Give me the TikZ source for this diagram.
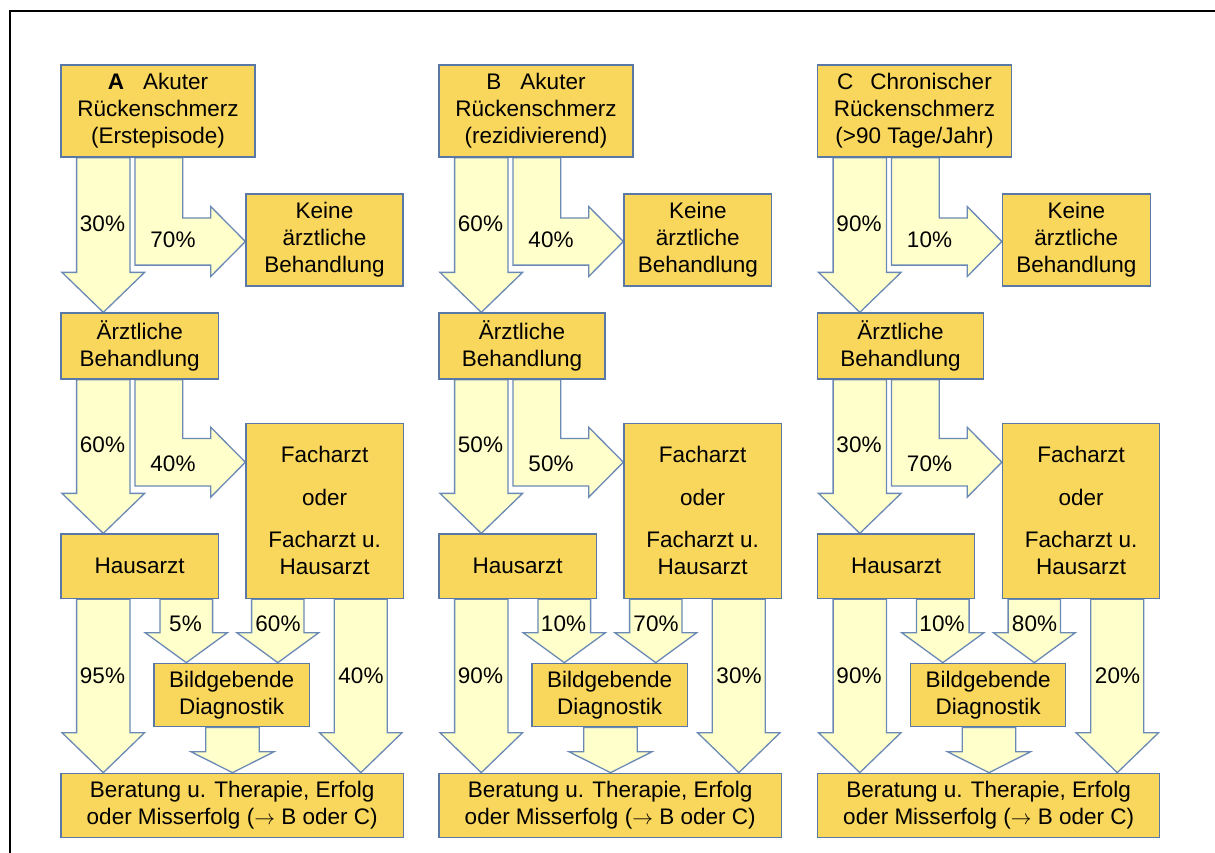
\documentclass[tikz,border=0pt]{standalone}
\usepackage{fontspec}
\setmainfont{Liberation Sans}
\usetikzlibrary{calc}
\definecolor{boxfill}{HTML}{F9D65C}
\definecolor{boxline}{HTML}{5A78A6}
\definecolor{arrfill}{HTML}{FFFFCC}
\definecolor{arrline}{HTML}{6A89B5}
\pgfdeclarelayer{bg}
\pgfsetlayers{bg,main}
% straight block arrow: from node, to node, centre x, shaft half width, head half width, head length
\newcommand\dnarrow[6]{%
  \draw[barrow] let \p1=(#1.south), \p2=(#2.north) in
   ({(#3-#4)*1pt},\y1) -- ({(#3+#4)*1pt},\y1) -- ({(#3+#4)*1pt},{\y2+#6pt})
   -- ({(#3+#5)*1pt},{\y2+#6pt}) -- ({(#3)*1pt},\y2) -- ({(#3-#5)*1pt},{\y2+#6pt})
   -- ({(#3-#4)*1pt},{\y2+#6pt}) -- cycle;}
% bent block arrow: from node, to node, left x, vertical width, centre y, half width, head start x
\newcommand\bentarrow[7]{%
  \draw[barrow] let \p1=(#1.south), \p2=(#2.west) in
   ({(#3)*1pt},\y1) -- ({(#3+#4)*1pt},\y1) -- ({(#3+#4)*1pt},{(#5+#6)*1pt})
   -- ({(#7)*1pt},{(#5+#6)*1pt}) -- ({(#7)*1pt},{(#5+35)*1pt}) -- (\x2,{(#5)*1pt})
   -- ({(#7)*1pt},{(#5-35)*1pt}) -- ({(#7)*1pt},{(#5-#6)*1pt}) -- ({(#3)*1pt},{(#5-#6)*1pt}) -- cycle;}
\def\ttlA{\textbf{A}\hspace{19pt}Akuter\\Rückenschmerz\\(Erstepisode)}
\def\ttlB{B\hspace{19pt}Akuter\\Rückenschmerz\\(rezidivierend)}
\def\ttlC{C\hspace{17pt}Chronischer\\Rückenschmerz\\(>90 Tage/Jahr)}
\begin{document}
\begin{tikzpicture}[x=1pt,y=1pt,
  box/.style={draw=boxline, fill=boxfill, line width=1.3pt, inner sep=0pt, align=center,
              font=\fontsize{22.5}{27}\selectfont, text=black},
  lbl/.style={inner sep=0pt, font=\fontsize{22.5}{27}\selectfont, text=black},
  barrow/.style={draw=arrline, fill=arrfill, line width=1.3pt, line join=miter}]
\useasboundingbox (0,0) rectangle (1215,-852);
\draw[line width=2pt] (9.7,-900) -- (9.7,-11) -- (1300,-11);
\foreach \c/\dx/\kw/\aw/\pa/\pb/\pc/\pd/\pe/\pf/\pg/\ph in
  {A/0/157/157.3/30/70/60/40/95/5/60/40,
   B/378/147.7/166/60/40/50/50/90/10/70/30,
   C/756.5/147.7/166/90/10/30/70/90/10/80/20}{
  % boxes
  \node[box, minimum width=194, minimum height=92] (\c-top) at ({\dx+158},-111) {\csname ttl\c\endcsname};
  \node[box, minimum width=\kw, minimum height=92] (\c-keine) at ({\dx+246+\kw/2},-240) {Keine\\ärztliche\\Behandlung};
  \node[box, minimum width=\aw, minimum height=66] (\c-arzt) at ({\dx+61+\aw/2},-346) {Ärztliche\\Behandlung};
  \node[box, minimum width=157.3, minimum height=64.5] (\c-haus) at ({\dx+139.65},-566.25) {Hausarzt};
  \node[box, minimum width=157.3, minimum height=175.2] (\c-fach) at ({\dx+324.65},-510.9) {Facharzt\\[16pt]oder\\[15pt]Facharzt u.\\Hausarzt};
  \node[box, minimum width=155.3, minimum height=63.4] (\c-bild) at ({\dx+231.65},-695) {Bildgebende\\Diagnostik};
  \node[box, minimum width=342.3, minimum height=64.4] (\c-ber) at ({\dx+232.15},-805.5) {Beratung u. Therapie, Erfolg\\oder Misserfolg ($\rightarrow$ B oder C)};
  % arrows
  \begin{pgfonlayer}{bg}
    \dnarrow{\c-top}{\c-arzt}{\dx+103.3}{26.7}{41.3}{40}
    \bentarrow{\c-top}{\c-keine}{\dx+135}{47.7}{-241.5}{23.6}{\dx+210.7}
    \dnarrow{\c-arzt}{\c-haus}{\dx+103.3}{26.7}{41.3}{40}
    \bentarrow{\c-arzt}{\c-fach}{\dx+135}{47.7}{-462.2}{23.8}{\dx+210.7}
    \dnarrow{\c-haus}{\c-ber}{\dx+103.3}{26.7}{41.3}{40}
    \dnarrow{\c-haus}{\c-bild}{\dx+186.3}{26.3}{41.2}{30}
    \dnarrow{\c-fach}{\c-bild}{\dx+277.8}{26.2}{41}{30}
    \dnarrow{\c-bild}{\c-ber}{\dx+232.5}{26.7}{41.7}{21}
    \dnarrow{\c-fach}{\c-ber}{\dx+360.8}{26.5}{41.3}{40}
  \end{pgfonlayer}
  % labels
  \node[lbl] (\c-l1) at ({\dx+102.5},-223.5) {\pa\%};
  \node[lbl] (\c-l2) at ({\dx+173},-240) {\pb\%};
  \node[lbl] (\c-l3) at ({\dx+102.5},-445) {\pc\%};
  \node[lbl] (\c-l4) at ({\dx+173},-464) {\pd\%};
  \node[lbl] (\c-l5) at ({\dx+102.5},-676) {\pe\%};
  \node[lbl] (\c-l6) at ({\dx+185.5},-624) {\pf\%};
  \node[lbl] (\c-l7) at ({\dx+278},-624) {\pg\%};
  \node[lbl] (\c-l8) at ({\dx+361},-676) {\ph\%};
}
\end{tikzpicture}
\end{document}
